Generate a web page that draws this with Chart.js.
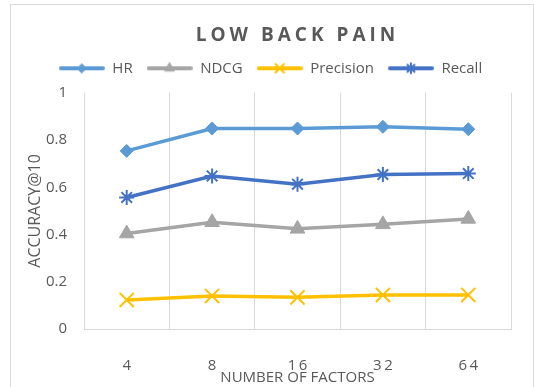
<!DOCTYPE html>
<html>
<head>
<meta charset="utf-8">
<script src="https://cdn.jsdelivr.net/npm/chart.js@4/dist/chart.umd.min.js"></script>
<style>
  html, body { margin: 0; padding: 0; background: #fff; }
  #wrap { position: relative; width: 534px; height: 387px; overflow: hidden; }
  #c { position: absolute; left: 0; top: 0; }
  #frame { position: absolute; left: 10px; top: 4px; width: 522px; height: 400px;
           border: 1px solid #d9d9d9; pointer-events: none; }
</style>
</head>
<body>
<div id="wrap">
  <canvas id="c" width="534" height="387"></canvas>
  <div id="frame"></div>
</div>
<script>
// Number of latent factors tested
const factors = ['4', '8', '16', '32', '64'];

// Accuracy@10 per metric
const hr        = [0.754, 0.849, 0.849, 0.856, 0.846];
const ndcg      = [0.404, 0.452, 0.424, 0.443, 0.466];
const precision = [0.123, 0.140, 0.134, 0.144, 0.144];
const recall    = [0.557, 0.648, 0.613, 0.654, 0.658];

// Y axis ticks
const yTicks = [0, 0.2, 0.4, 0.6, 0.8, 1];

const GREY = '#595959';
const GRID = '#d9d9d9';
Chart.defaults.font.family = "'Open Sans', sans-serif";
Chart.defaults.color = GREY;

const series = [
  { label: 'HR',        data: hr,        color: '#5B9BD5', style: 'rectRot',  r: 6.5, bw: 1, lr: 4.5 },
  { label: 'NDCG',      data: ndcg,      color: '#A5A5A5', style: 'triangle', r: 8.5, bw: 1, lr: 5.5 },
  { label: 'Precision', data: precision, color: '#FFC000', style: 'crossRot', r: 10,  bw: 2, lr: 6   },
  { label: 'Recall',    data: recall,    color: '#4472C4', style: 'star',     r: 7.5, bw: 2, lr: 5   }
];

// Legend swatch: a short line with the series marker in its middle
function legendSwatch(s) {
  const cv = document.createElement('canvas');
  cv.width = 46; cv.height = 14;
  const ctx = cv.getContext('2d');
  ctx.strokeStyle = s.color;
  ctx.lineWidth = 4;
  ctx.lineCap = 'round';
  ctx.beginPath(); ctx.moveTo(2, 7); ctx.lineTo(44, 7); ctx.stroke();
  ctx.fillStyle = s.color;
  ctx.lineWidth = s.bw;
  Chart.helpers.drawPoint(ctx, { pointStyle: s.style, radius: s.lr, rotation: 0, borderWidth: s.bw }, 23, 7);
  return cv;
}
const swatches = series.map(legendSwatch);

const tweaks = {
  id: 'tweaks',
  afterInit(chart) {
    // spaced-out lettering for the chart title
    const tb = chart.titleBlock;
    if (tb) {
      const draw = tb.draw.bind(tb);
      tb.draw = function () {
        const ctx = chart.ctx;
        ctx.save();
        ctx.letterSpacing = '4px';
        draw();
        ctx.restore();
      };
    }
    // a little extra room between the legend and the plot
    const lg = chart.legend;
    if (lg) {
      const fit = lg.fit.bind(lg);
      lg.fit = function () { fit(); this.height += 7; };
    }
  }
};

new Chart(document.getElementById('c'), {
  type: 'line',
  data: {
    labels: factors,
    datasets: series.map(s => ({
      label: s.label,
      data: s.data,
      borderColor: s.color,
      backgroundColor: s.color,
      borderWidth: 3.5,
      tension: 0,
      pointStyle: s.style,
      pointRadius: s.r,
      pointHoverRadius: s.r,
      pointBorderWidth: s.bw,
      pointBackgroundColor: s.color,
      pointBorderColor: s.color
    }))
  },
  options: {
    responsive: false,
    animation: false,
    layout: { padding: { top: 0, right: 23, bottom: 0, left: 30 } },
    plugins: {
      title: {
        display: true,
        text: 'LOW BACK PAIN',
        color: GREY,
        fullSize: false,
        font: { size: 19, weight: 'bold' },
        padding: { top: 24, bottom: 0 }
      },
      legend: {
        display: true,
        position: 'top',
        labels: {
          usePointStyle: true,
          pointStyleWidth: 46,
          padding: 14,
          color: GREY,
          font: { size: 15 },
          generateLabels(chart) {
            const items = Chart.defaults.plugins.legend.labels.generateLabels(chart);
            items.forEach((it, i) => { it.pointStyle = swatches[i]; });
            return items;
          }
        }
      },
      tooltip: { enabled: false }
    },
    scales: {
      x: {
        offset: true,
        grid: { display: true, offset: true, color: GRID, lineWidth: 1, drawTicks: false },
        border: { display: true, color: GRID, width: 1 },
        ticks: {
          color: GREY,
          font: { size: 15 },
          padding: 28,
          callback(v) { return this.getLabelForValue(v).split('').join('\u2009'); }
        },
        title: {
          display: true,
          text: 'NUMBER OF FACTORS',
          color: GREY,
          font: { size: 15 },
          padding: { top: 0, bottom: 0 }
        },
        afterFit(scale) { scale.height = 58; }
      },
      y: {
        min: 0,
        max: 1,
        afterBuildTicks(scale) { scale.ticks = yTicks.map(v => ({ value: v })); },
        grid: { display: false, drawTicks: false },
        border: { display: false },
        ticks: {
          color: GREY,
          font: { size: 15 },
          padding: 17,
          callback(v) { return String(Math.round(v * 10) / 10); }
        },
        title: {
          display: true,
          text: 'ACCURACY@10',
          color: GREY,
          font: { size: 16 },
          padding: { top: -4, bottom: 0 }
        },
        afterFit(scale) { scale.width = 54; }
      }
    }
  },
  plugins: [tweaks]
});
</script>
</body>
</html>
